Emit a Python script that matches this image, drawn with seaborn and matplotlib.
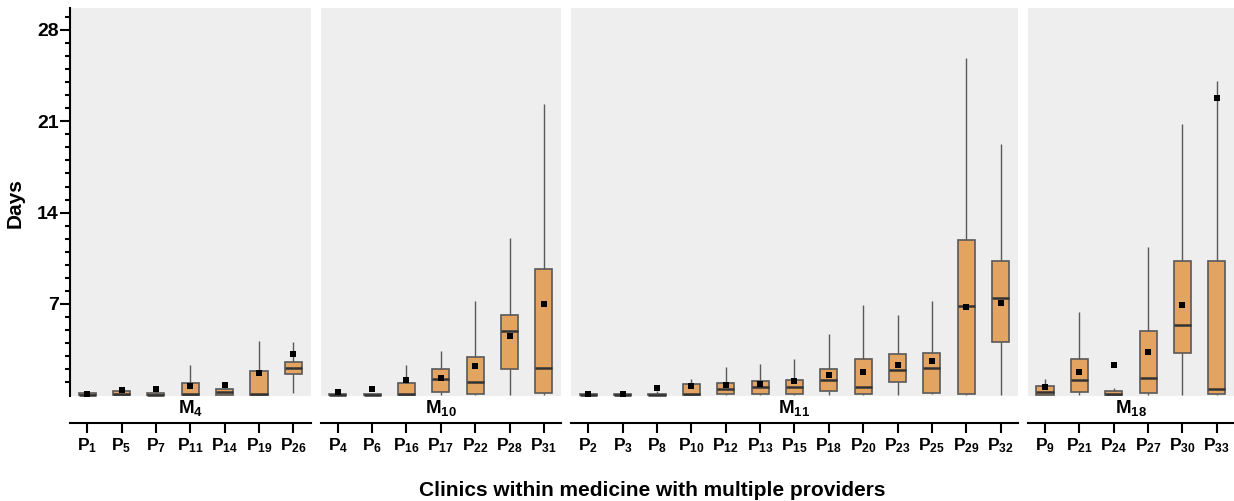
import matplotlib
matplotlib.use("Agg")
import matplotlib.pyplot as plt
import seaborn as sns
import pandas as pd

# ---------------- data ----------------
groups = ["4", "10", "11", "18"]
group_providers = [
    [1, 5, 7, 11, 14, 19, 26],
    [4, 6, 16, 17, 22, 28, 31],
    [2, 3, 8, 10, 12, 13, 15, 18, 20, 23, 25, 29, 32],
    [9, 21, 24, 27, 30, 33],
]
# five-number summaries (whisker low, Q1, median, Q3, whisker high) and means, per group
low = [
    [0, 0, 0, 0, 0, 0, 0.15],
    [0, 0, 0, 0, 0, 0, 0],
    [0, 0, 0, 0, 0, 0, 0, 0, 0, 0, 0.1, 0, 0],
    [0, 0, 0, 0, 0, 0],
]
q1 = [
    [0, 0.02, 0, 0.02, 0.02, 0.02, 1.61],
    [0.02, 0.02, 0.02, 0.28, 0.1, 2.03, 0.2],
    [0.02, 0.02, 0.02, 0.02, 0.08, 0.08, 0.08, 0.36, 0.08, 1.03, 0.18, 0.08, 4.05],
    [0.02, 0.28, 0.02, 0.15, 3.23, 0.1],
]
median = [
    [0.05, 0.1, 0.05, 0.08, 0.28, 0.12, 2.07],
    [0.05, 0.05, 0.12, 1.26, 1.03, 4.93, 2.13],
    [0.06, 0.06, 0.06, 0.1, 0.46, 0.67, 0.67, 1.19, 0.67, 1.93, 2.1, 6.85, 7.45],
    [0.23, 1.19, 0.08, 1.29, 5.35, 0.52],
]
q3 = [
    [0.15, 0.33, 0.15, 0.97, 0.48, 1.88, 2.53],
    [0.12, 0.12, 0.97, 2.0, 2.97, 6.17, 9.67],
    [0.12, 0.12, 0.12, 0.87, 0.97, 1.08, 1.16, 2.05, 2.79, 3.15, 3.23, 11.92, 10.3],
    [0.72, 2.79, 0.33, 4.89, 10.3, 10.3],
]
high = [
    [0.2, 0.45, 0.5, 2.32, 1.02, 4.16, 4.08],
    [0.2, 0.2, 2.32, 3.36, 7.19, 12.09, 22.3],
    [0.2, 0.2, 0.3, 1.25, 2.2, 2.4, 2.77, 4.68, 6.93, 6.17, 7.19, 25.84, 19.24],
    [1.25, 6.42, 0.54, 11.33, 20.8, 24.1],
]
mean = [
    [0.1, 0.42, 0.47, 0.74, 0.81, 1.69, 3.18],
    [0.23, 0.47, 1.19, 1.36, 2.28, 4.58, 6.99],
    [0.08, 0.08, 0.54, 0.74, 0.77, 0.85, 1.11, 1.59, 1.77, 2.33, 2.59, 6.76, 7.11],
    [0.6, 1.82, 2.33, 3.31, 6.93, 22.8],
]
major_ticks = [7, 14, 21, 28]
x_title = "Clinics within medicine with multiple providers"
y_title = "Days"

# ---------------- style ----------------
sns.set_theme(style="white")
plt.rcParams["font.family"] = ["Liberation Sans", "DejaVu Sans"]
plt.rcParams["font.weight"] = "bold"
plt.rcParams["mathtext.fontset"] = "custom"
plt.rcParams["mathtext.rm"] = "Liberation Sans"
plt.rcParams["mathtext.bf"] = "Liberation Sans:bold"
plt.rcParams["mathtext.it"] = "Liberation Sans:italic"

FILL = "#E4A461"
EDGE = "#595959"
MED = "#333333"
PANEL = "#EEEEEE"

YMIN, YMAX = -2.1, 29.68

fig = plt.figure(figsize=(12.34, 5.01), dpi=100)
gs = fig.add_gridspec(1, 4, width_ratios=[len(p) for p in group_providers],
                      left=70 / 1234, right=1.0, bottom=1 - 422.7 / 501, top=1 - 8 / 501,
                      wspace=0.0355)

for gi, (g, provs) in enumerate(zip(groups, group_providers)):
    ax = fig.add_subplot(gs[0, gi])
    labels = [r"$\mathbf{P_{%d}}$" % p for p in provs]
    rows = []
    for k, lab in enumerate(labels):
        for v in (low[gi][k], q1[gi][k], median[gi][k], q3[gi][k], high[gi][k]):
            rows.append({"provider": lab, "days": v})
    df = pd.DataFrame(rows)

    ax.set_facecolor("white")
    ax.axhspan(-0.05, YMAX, color=PANEL, lw=0, zorder=0)

    sns.boxplot(data=df, x="provider", y="days", order=labels, whis=(0, 100),
                width=0.5, color=FILL, saturation=1, linecolor=EDGE, linewidth=1.2,
                showcaps=False, fliersize=0,
                medianprops=dict(color=MED, linewidth=1.8),
                whiskerprops=dict(color=EDGE, linewidth=1.0),
                ax=ax)
    sns.stripplot(x=labels, y=mean[gi], order=labels, jitter=False, marker="s",
                  color="black", size=3.8, linewidth=0, zorder=5, ax=ax)

    ax.set_xlim(-0.5, len(provs) - 0.5)
    ax.set_ylim(YMIN, YMAX)
    ax.set_xlabel("")
    ax.set_ylabel("")
    for s in ("top", "right"):
        ax.spines[s].set_visible(False)
    ax.spines["bottom"].set_color("black")
    ax.spines["bottom"].set_linewidth(1.5)
    ax.tick_params(axis="x", bottom=True, length=7, width=1.5, color="black",
                   pad=3, labelsize=12.5, labelcolor="black")
    if gi == 0:
        ax.spines["left"].set_color("black")
        ax.spines["left"].set_linewidth(1.5)
        ax.spines["left"].set_bounds(-0.05, YMAX)
        ax.set_yticks(major_ticks)
        ax.set_yticklabels([str(t) for t in major_ticks], fontsize=14, fontweight="bold")
        ax.set_yticks([v for v in range(1, 30) if v % 7 != 0], minor=True)
        ax.tick_params(axis="y", which="major", left=True, length=7, width=1.5,
                       color="black", pad=1, labelcolor="black")
        ax.tick_params(axis="y", which="minor", left=True, length=3.6, width=1.5,
                       color="black")
    else:
        ax.spines["left"].set_visible(False)
        ax.set_yticks([])
    ax.grid(False)
    ax.text(0.5, 0.035, r"$\mathbf{M_{%s}}$" % g, transform=ax.transAxes,
            ha="center", va="center", fontsize=13.5, color="black")

fig.text((70 + 1234) / 2 / 1234, 1 - 490 / 501, x_title, ha="center", va="center",
         fontsize=15, fontweight="bold", color="black")
fig.text(15 / 1234, 1 - 203 / 501, y_title, ha="center", va="center", rotation=90,
         fontsize=15, fontweight="bold", color="black")

fig.savefig("out.png", dpi=100)
